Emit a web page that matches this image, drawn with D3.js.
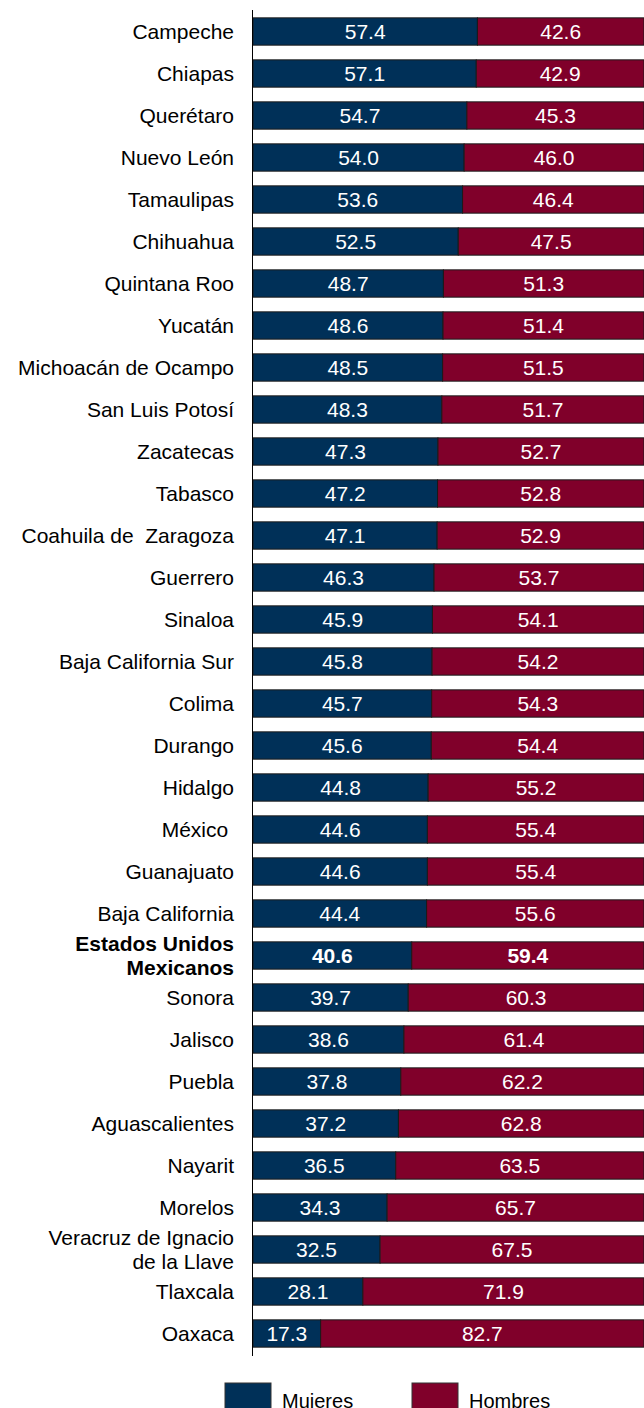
<!DOCTYPE html>
<html><head><meta charset="utf-8">
<script src="https://cdn.jsdelivr.net/npm/d3@7"></script>
<style>body{margin:0;background:#fff}svg{display:block}text{font-family:"Liberation Sans",Arial,sans-serif;white-space:pre}</style>
</head><body><svg id="c" width="644" height="1408"></svg>
<script>
const categories = ["Campeche","Chiapas","Querétaro","Nuevo León","Tamaulipas","Chihuahua","Quintana Roo","Yucatán","Michoacán de Ocampo","San Luis Potosí","Zacatecas","Tabasco","Coahuila de  Zaragoza","Guerrero","Sinaloa","Baja California Sur","Colima","Durango","Hidalgo","México ","Guanajuato","Baja California","Estados Unidos|Mexicanos","Sonora","Jalisco","Puebla","Aguascalientes","Nayarit","Morelos","Veracruz de Ignacio|de la Llave","Tlaxcala","Oaxaca"];
const mujeres = [57.4,57.1,54.7,54.0,53.6,52.5,48.7,48.6,48.5,48.3,47.3,47.2,47.1,46.3,45.9,45.8,45.7,45.6,44.8,44.6,44.6,44.4,40.6,39.7,38.6,37.8,37.2,36.5,34.3,32.5,28.1,17.3];
const hombres = [42.6,42.9,45.3,46.0,46.4,47.5,51.3,51.4,51.5,51.7,52.7,52.8,52.9,53.7,54.1,54.2,54.3,54.4,55.2,55.4,55.4,55.6,59.4,60.3,61.4,62.2,62.8,63.5,65.7,67.5,71.9,82.7];
const seriesNames = ["Mujeres","Hombres"];
const colors = ["#003058","#80002A"];
const highlight = "Estados Unidos|Mexicanos";

const svg = d3.select("#c");
const x = d3.scaleLinear().domain([0,100]).range([253,644]);
const y = d3.scaleBand().domain(categories).range([10.5,1354.5]).paddingInner(0.35).paddingOuter(0.175);
const rows = categories.map((c,i)=>({c, m:mujeres[i], h:hombres[i]}));

const g = svg.append("g");
rows.forEach(r=>{
  const bold = r.c===highlight;
  const segs = [{v0:0,v1:r.m,col:colors[0],val:r.m},{v0:r.m,v1:r.m+r.h,col:colors[1],val:r.h}];
  segs.forEach(s=>{
    g.append("rect").attr("x",x(s.v0)).attr("y",y(r.c)).attr("width",x(s.v1)-x(s.v0)).attr("height",y.bandwidth())
      .attr("fill",s.col).attr("stroke","#1a1a1a").attr("stroke-width",1);
    g.append("text").attr("x",(x(s.v0)+x(Math.min(s.v1,100)))/2).attr("y",y(r.c)+y.bandwidth()/2)
      .attr("dy","0.36em").attr("text-anchor","middle").attr("fill","#fff").attr("font-size",21)
      .attr("font-weight",bold?"bold":"normal").text(s.val.toFixed(1));
  });
  const lines = r.c.split("|");
  const cy = y(r.c)+y.bandwidth()/2;
  const t = g.append("text").attr("text-anchor","end").attr("font-size",21).attr("fill","#000")
    .attr("font-weight",bold?"bold":"normal");
  lines.forEach((l,i)=>{
    t.append("tspan").attr("x",234).attr("y",cy+(i-(lines.length-1)/2)*23.5).attr("dy","0.36em").text(l);
  });
});
svg.append("line").attr("x1",252.5).attr("x2",252.5).attr("y1",10).attr("y2",1356).attr("stroke","#000").attr("stroke-width",1);

// legend
const lg = svg.append("g");
const lx = [225,412];
seriesNames.forEach((n,i)=>{
  lg.append("rect").attr("x",lx[i]).attr("y",1383).attr("width",46).attr("height",40).attr("fill",colors[i]).attr("stroke","#333");
  lg.append("text").attr("x",lx[i]+57).attr("y",1408).attr("font-size",20).attr("fill","#000").text(n);
});
</script></body></html>
